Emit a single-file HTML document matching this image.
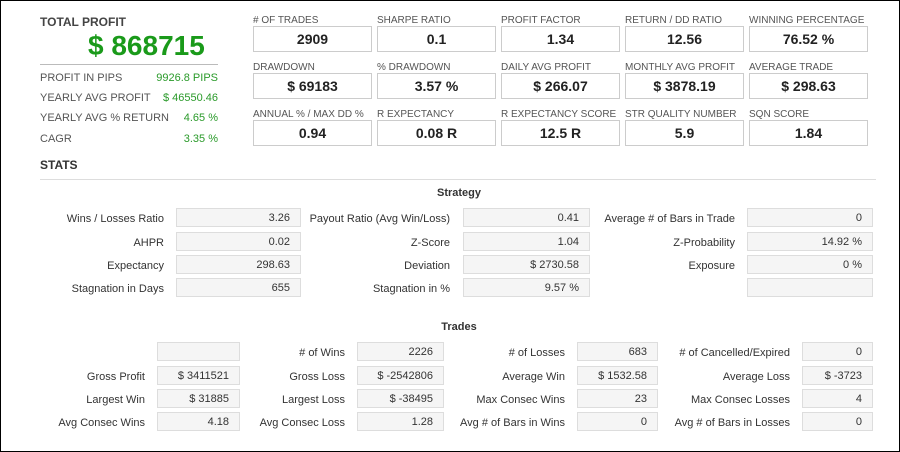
<!DOCTYPE html>
<html><head><meta charset="utf-8"><style>
body{margin:0;width:900px;height:452px;overflow:hidden;background:#fff;font-family:"Liberation Sans",sans-serif;position:relative}
.frame{position:absolute;left:0;top:0;width:898px;height:450px;border:1px solid #000}
.a{position:absolute;white-space:nowrap}
.lbl{font-size:10px;color:#555}
.tb{position:absolute;width:117px;height:24px;border:1px solid #ccc;background:#fff;font-size:14px;font-weight:bold;color:#222;text-align:center;line-height:24px}
.sl{position:absolute;font-size:11px;color:#333;text-align:right;white-space:nowrap;margin-top:2px}
.sb{position:absolute;height:19px;border:1px solid #ddd;background:#f5f5f5;font-size:11px;color:#333;text-align:right;line-height:19px;box-sizing:border-box;padding-right:10px}
.g{color:#2a9a2a;font-size:11px;text-align:right}
.k{font-size:11px;color:#555}
</style></head><body>
<div class="frame"></div>
<div class="a" style="left:40px;top:15px;font-size:12px;font-weight:bold;color:#444">TOTAL PROFIT</div>
<div class="a" style="left:88px;top:30px;font-size:28px;font-weight:bold;color:#1a9a1a">$ 868715</div>
<div class="a" style="left:40px;top:64px;width:178px;border-top:1px solid #bbb"></div>
<div class="a k" style="left:40px;top:72px">PROFIT IN PIPS</div><div class="a g" style="right:682px;top:72px">9926.8 PIPS</div>
<div class="a k" style="left:40px;top:92px">YEARLY AVG PROFIT</div><div class="a g" style="right:682px;top:92px">$ 46550.46</div>
<div class="a k" style="left:40px;top:112px">YEARLY AVG % RETURN</div><div class="a g" style="right:682px;top:112px">4.65 %</div>
<div class="a k" style="left:40px;top:133px">CAGR</div><div class="a g" style="right:682px;top:133px">3.35 %</div>
<div class="a" style="left:40px;top:158px;font-size:12px;font-weight:bold;color:#333">STATS</div>
<div class="a" style="left:40px;top:179px;width:836px;border-top:1px solid #ddd"></div>

<div class="a lbl" style="left:253px;top:15px">#&nbsp;OF TRADES</div><div class="tb" style="left:253px;top:26px">2909</div>
<div class="a lbl" style="left:377px;top:15px">SHARPE RATIO</div><div class="tb" style="left:377px;top:26px">0.1</div>
<div class="a lbl" style="left:501px;top:15px">PROFIT FACTOR</div><div class="tb" style="left:501px;top:26px">1.34</div>
<div class="a lbl" style="left:625px;top:15px">RETURN / DD RATIO</div><div class="tb" style="left:625px;top:26px">12.56</div>
<div class="a lbl" style="left:749px;top:15px">WINNING PERCENTAGE</div><div class="tb" style="left:749px;top:26px">76.52 %</div>

<div class="a lbl" style="left:253px;top:62px">DRAWDOWN</div><div class="tb" style="left:253px;top:73px">$ 69183</div>
<div class="a lbl" style="left:377px;top:62px">% DRAWDOWN</div><div class="tb" style="left:377px;top:73px">3.57 %</div>
<div class="a lbl" style="left:501px;top:62px">DAILY AVG PROFIT</div><div class="tb" style="left:501px;top:73px">$ 266.07</div>
<div class="a lbl" style="left:625px;top:62px">MONTHLY AVG PROFIT</div><div class="tb" style="left:625px;top:73px">$ 3878.19</div>
<div class="a lbl" style="left:749px;top:62px">AVERAGE TRADE</div><div class="tb" style="left:749px;top:73px">$ 298.63</div>

<div class="a lbl" style="left:253px;top:109px">ANNUAL % / MAX DD %</div><div class="tb" style="left:253px;top:120px">0.94</div>
<div class="a lbl" style="left:377px;top:109px">R EXPECTANCY</div><div class="tb" style="left:377px;top:120px">0.08 R</div>
<div class="a lbl" style="left:501px;top:109px">R EXPECTANCY SCORE</div><div class="tb" style="left:501px;top:120px">12.5 R</div>
<div class="a lbl" style="left:625px;top:109px">STR QUALITY NUMBER</div><div class="tb" style="left:625px;top:120px">5.9</div>
<div class="a lbl" style="left:749px;top:109px">SQN SCORE</div><div class="tb" style="left:749px;top:120px">1.84</div>

<div class="a" style="left:0;width:918px;text-align:center;top:187px;font-size:11px;font-weight:bold;color:#333">Strategy</div>
<div class="sl" style="right:736px;top:211px">Wins / Losses Ratio</div><div class="sb" style="left:176px;width:125px;top:208px">3.26</div>
<div class="sl" style="right:450px;top:211px">Payout Ratio (Avg Win/Loss)</div><div class="sb" style="left:463px;width:127px;top:208px">0.41</div>
<div class="sl" style="right:165px;top:211px">Average # of Bars in Trade</div><div class="sb" style="left:747px;width:126px;top:208px">0</div>
<div class="sl" style="right:736px;top:235px">AHPR</div><div class="sb" style="left:176px;width:125px;top:232px">0.02</div>
<div class="sl" style="right:450px;top:235px">Z-Score</div><div class="sb" style="left:463px;width:127px;top:232px">1.04</div>
<div class="sl" style="right:165px;top:235px">Z-Probability</div><div class="sb" style="left:747px;width:126px;top:232px">14.92 %</div>
<div class="sl" style="right:736px;top:258px">Expectancy</div><div class="sb" style="left:176px;width:125px;top:255px">298.63</div>
<div class="sl" style="right:450px;top:258px">Deviation</div><div class="sb" style="left:463px;width:127px;top:255px">$ 2730.58</div>
<div class="sl" style="right:165px;top:258px">Exposure</div><div class="sb" style="left:747px;width:126px;top:255px">0 %</div>
<div class="sl" style="right:736px;top:281px">Stagnation in Days</div><div class="sb" style="left:176px;width:125px;top:278px">655</div>
<div class="sl" style="right:450px;top:281px">Stagnation in %</div><div class="sb" style="left:463px;width:127px;top:278px">9.57 %</div>
<div class="sb" style="left:747px;width:126px;top:278px"></div>

<div class="a" style="left:0;width:918px;text-align:center;top:321px;font-size:11px;font-weight:bold;color:#333">Trades</div>
<div class="sb" style="left:157px;width:83px;top:342px"></div>
<div class="sl" style="right:555px;top:345px"># of Wins</div><div class="sb" style="left:357px;width:87px;top:342px">2226</div>
<div class="sl" style="right:335px;top:345px"># of Losses</div><div class="sb" style="left:577px;width:81px;top:342px">683</div>
<div class="sl" style="right:110px;top:345px"># of Cancelled/Expired</div><div class="sb" style="left:802px;width:71px;top:342px">0</div>
<div class="sl" style="right:755px;top:369px">Gross Profit</div><div class="sb" style="left:157px;width:83px;top:366px">$ 3411521</div>
<div class="sl" style="right:555px;top:369px">Gross Loss</div><div class="sb" style="left:357px;width:87px;top:366px">$ -2542806</div>
<div class="sl" style="right:335px;top:369px">Average Win</div><div class="sb" style="left:577px;width:81px;top:366px">$ 1532.58</div>
<div class="sl" style="right:110px;top:369px">Average Loss</div><div class="sb" style="left:802px;width:71px;top:366px">$ -3723</div>
<div class="sl" style="right:755px;top:392px">Largest Win</div><div class="sb" style="left:157px;width:83px;top:389px">$ 31885</div>
<div class="sl" style="right:555px;top:392px">Largest Loss</div><div class="sb" style="left:357px;width:87px;top:389px">$ -38495</div>
<div class="sl" style="right:335px;top:392px">Max Consec Wins</div><div class="sb" style="left:577px;width:81px;top:389px">23</div>
<div class="sl" style="right:110px;top:392px">Max Consec Losses</div><div class="sb" style="left:802px;width:71px;top:389px">4</div>
<div class="sl" style="right:755px;top:415px">Avg Consec Wins</div><div class="sb" style="left:157px;width:83px;top:412px">4.18</div>
<div class="sl" style="right:555px;top:415px">Avg Consec Loss</div><div class="sb" style="left:357px;width:87px;top:412px">1.28</div>
<div class="sl" style="right:335px;top:415px">Avg # of Bars in Wins</div><div class="sb" style="left:577px;width:81px;top:412px">0</div>
<div class="sl" style="right:110px;top:415px">Avg # of Bars in Losses</div><div class="sb" style="left:802px;width:71px;top:412px">0</div>
</body></html>
